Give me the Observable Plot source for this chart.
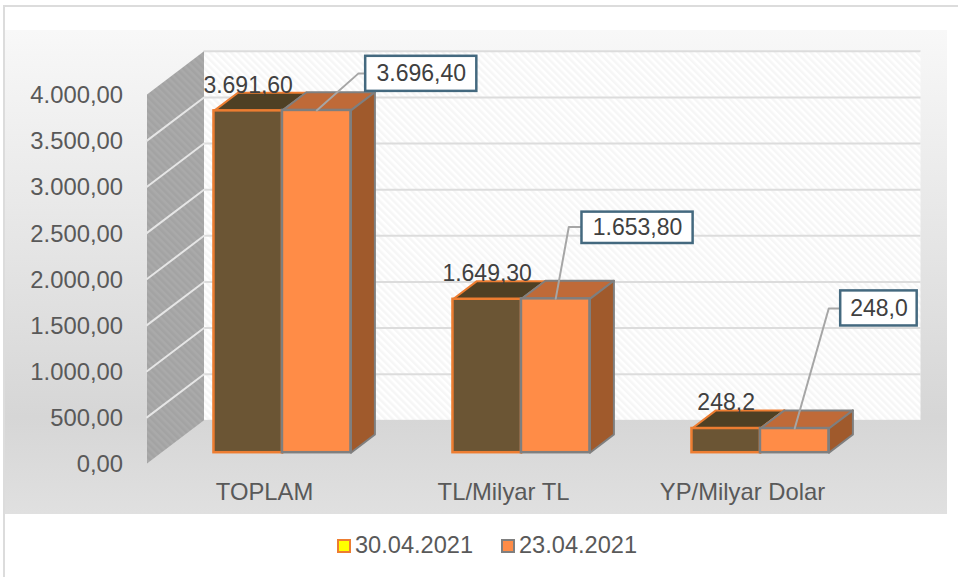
<!DOCTYPE html>
<html><head><meta charset="utf-8">
<script src="https://cdn.jsdelivr.net/npm/d3@7"></script>
<script src="https://cdn.jsdelivr.net/npm/@observablehq/plot@0.6"></script>
<style>
html,body{margin:0;padding:0;background:#fff;width:958px;height:577px;overflow:hidden}
#frame{position:absolute;left:3px;top:5px;width:955px;height:572px;border-top:2px solid #dcdcdc;border-left:2px solid #dcdcdc;box-sizing:border-box}
#panel{position:absolute;left:5px;top:30px;width:942px;height:484px;background:linear-gradient(#f8f8f8 0%,#d6d6d6 80%,#e0e0e0 100%)}
#chart{position:absolute;left:0;top:0}
#chart svg{background:transparent;overflow:visible}
#legend{position:absolute;left:0;top:515px;width:958px;height:62px;font:23.6px "Liberation Sans",Arial,sans-serif;color:#595959}
#legend span{position:absolute;top:17px}
#legend i{position:absolute;top:24px;width:10px;height:10px;border-width:2.5px;border-style:solid}
</style></head><body>
<div id="frame"></div><div id="panel"></div><div id="chart"></div>
<div id="legend">
<i style="left:337px;background:#ffff00;border-color:#ed7d31"></i><span style="left:355px" id="l0"></span>
<i style="left:501px;background:#ff8c47;border-color:#7f7f7f"></i><span style="left:519px" id="l1"></span>
</div>
<script>
const categories = ["TOPLAM", "TL/Milyar TL", "YP/Milyar Dolar"];
const seriesNames = ["30.04.2021", "23.04.2021"];
const values3004 = [3691.6, 1649.3, 248.2];
const values2304 = [3696.4, 1653.8, 248.0];
const labels3004 = ["3.691,60", "1.649,30", "248,2"];
const labels2304 = ["3.696,40", "1.653,80", "248,0"];
const yTicks = [0, 500, 1000, 1500, 2000, 2500, 3000, 3500, 4000];
const yTickLabels = ["0,00", "500,00", "1.000,00", "1.500,00", "2.000,00", "2.500,00", "3.000,00", "3.500,00", "4.000,00"];

// oblique projection of the 3D chart box, in data units
const depthX = 0.2385, depthY = 468;
const P = (c, v, d) => ({x: c + d * depthX, y: v + d * depthY});
const barFront = 0.28, barBack = 0.7, barW = 0.2866, barBase = -14;
const xMin = -0.5, xMax = 2.5;

const polygons = [], fronts = [];
const poly = (id, fill, stroke, strokeWidth, pts) =>
  pts.concat([pts[0]]).forEach(p => polygons.push({id, fill, stroke, strokeWidth, ...p}));

function barFaces(vals, s, front, top, side, stroke) {
  vals.forEach((v, i) => {
    const a = i + (s - 1) * barW, b = a + barW;
    fronts.push({y1: P(a, barBase, barFront).y, y2: P(a, v, barFront).y,
      x1: P(a, 0, barFront).x, x2: P(b, 0, barFront).x, fill: front, stroke});
    poly(`t${s}${i}`, top, stroke, 2, [P(a, v, barFront), P(b, v, barFront), P(b, v, barBack), P(a, v, barBack)]);
    poly(`s${s}${i}`, side, stroke, 2, [P(b, barBase, barFront), P(b, v, barFront), P(b, v, barBack), P(b, barBase, barBack)]);
  });
}
const polysA = (barFaces(values3004, 0, "#6b5534", "#4f4024", "#4f4024", "#ed7d31"), polygons.splice(0));
const frontsA = fronts.splice(0);
const polysB = (barFaces(values2304, 1, "#ff8c47", "#bf6a38", "#a05a2c", "#7f7f7f"), polygons.splice(0));
const frontsB = fronts.splice(0);

const wall = [];
poly("wall", "url(#sideHatch)", "none", 0, [P(xMin, 0, 0), P(xMin, 4000, 0), P(xMin, 4000, 1), P(xMin, 0, 1)]);
wall.push(...polygons.splice(0));

const sideGrid = yTicks.slice(1, -1).flatMap(v => [{v, ...P(xMin, v, 0)}, {v, ...P(xMin, v, 1)}]);
const backGrid = yTicks.slice(1);

const faceMarks = (polys, fr) => [
  Plot.line(polys, {x: "x", y: "y", z: "id", fill: "fill", stroke: "stroke", strokeWidth: 2, curve: "linear"}),
  Plot.rect(fr, {x1: "x1", x2: "x2", y1: "y1", y2: "y2", fill: "fill", stroke: "stroke", strokeWidth: 2.5})
];

// callouts for the second series: box corners and leader elbow, data units
const callouts = [
  {x1: 0.415, x2: 0.88, y1: 4034, y2: 4414, ex: 0.385, ey: 4229, i: 0},
  {x1: 1.32, x2: 1.785, y1: 2385, y2: 2725, ex: 1.265, ey: 2565, i: 1},
  {x1: 2.4025, x2: 2.7225, y1: 1491, y2: 1871, ex: 2.3525, ey: 1681, i: 2}
];
const leaders = callouts.flatMap(c => {
  const tx = c.i + barW / 2, t = P(tx, values2304[c.i], barFront);
  return [{i: c.i, ...t}, {i: c.i, x: c.ex, y: c.ey}, {i: c.i, x: c.x1, y: c.ey}];
});

const font = '"Liberation Sans",Arial,sans-serif';
const txt = "#595959";
const plot = Plot.plot({
  width: 958, height: 515,
  marginLeft: 146, marginBottom: 52, marginTop: 0, marginRight: 0,
  style: {fontFamily: font, fontSize: "23.8px", color: txt, background: "transparent"},
  x: {type: "linear", domain: [0, 2], range: [266, 744]},
  y: {type: "linear", domain: [0, 4000], range: [463, 94]},
  marks: [
    () => {
      const g = d3.create("svg:g");
      const defs = g.append("defs");
      const mk = (id, bg, line, w) => {
        const p = defs.append("pattern").attr("id", id).attr("width", 5).attr("height", 5)
          .attr("patternUnits", "userSpaceOnUse").attr("patternTransform", "rotate(-45)");
        p.append("rect").attr("width", 5).attr("height", 5).attr("fill", bg);
        p.append("rect").attr("width", w).attr("height", 5).attr("fill", line);
      };
      mk("backHatch", "#ffffff", "#f6f6f6", 2.5);
      mk("sideHatch", "#aaaaaa", "#a3a3a3", 2.5);
      return g.node();
    },
    Plot.rect([0], {x1: P(xMin, 0, 1).x, x2: P(xMax, 0, 1).x, y1: P(0, 0, 1).y, y2: P(0, 4000, 1).y, fill: "url(#backHatch)"}),
    Plot.ruleY(backGrid, {y: d => d + depthY, x1: P(xMin, 0, 1).x, x2: P(xMax, 0, 1).x, stroke: "#dcdcdc", strokeWidth: 2}),
    Plot.line(wall, {x: "x", y: "y", z: "id", fill: "fill", stroke: "none"}),
    Plot.line(sideGrid, {x: "x", y: "y", z: "v", stroke: "#e6e6e6", strokeWidth: 2}),
    Plot.axisY({ticks: yTicks, tickFormat: d => yTickLabels[yTicks.indexOf(d)], tickSize: 0, tickPadding: 23.5, dy: 1, label: null, anchor: "left"}),
    Plot.axisX({ticks: [0, 1, 2], tickFormat: d => categories[d], tickSize: 0, tickPadding: 20, dx: -2, label: null, anchor: "bottom"}),
    ...faceMarks(polysA, frontsA),
    ...faceMarks(polysB, frontsB),
    Plot.line(leaders, {x: "x", y: "y", z: "i", stroke: "#a6a6a6", strokeWidth: 2}),
    Plot.rect(callouts, {x1: "x1", x2: "x2", y1: "y1", y2: "y2", fill: "#fff", stroke: "#44697f", strokeWidth: 2.5}),
    Plot.text(callouts, {x: d => (d.x1 + d.x2) / 2, y: d => (d.y1 + d.y2) / 2, text: d => labels2304[d.i], fill: "#404040", fontSize: 23}),
    Plot.text(values3004, {x: (d, i) => P(i - barW / 2, 0, barBack - 0.05).x - 0.0885, y: d => P(0, d, barBack).y + 80, text: (d, i) => labels3004[i], fill: "#404040", fontSize: 23})
  ]
});
document.getElementById("chart").append(plot);
document.getElementById("l0").textContent = seriesNames[0];
document.getElementById("l1").textContent = seriesNames[1];
</script></body></html>
